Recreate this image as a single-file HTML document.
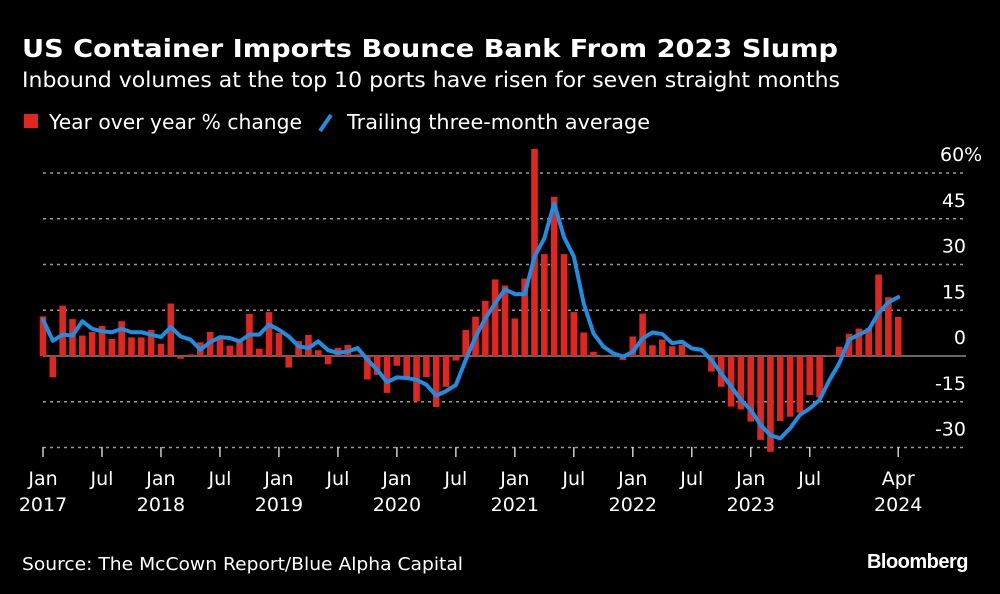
<!DOCTYPE html>
<html><head><meta charset="utf-8"><style>
body{margin:0;background:#000;width:1000px;height:594px;overflow:hidden;font-family:"DejaVu Sans","Liberation Sans",sans-serif;color:#fff}
svg{position:absolute;left:0;top:0}
</style></head><body>
<svg width="1000" height="594" font-family="DejaVu Sans, Liberation Sans, sans-serif">
<text x="22" y="57" font-size="25" font-weight="bold" fill="#fff" textLength="816" lengthAdjust="spacingAndGlyphs">US Container Imports Bounce Bank From 2023 Slump</text>
<text x="22" y="87" font-size="21" fill="#fff" textLength="818" lengthAdjust="spacingAndGlyphs">Inbound volumes at the top 10 ports have risen for seven straight months</text>
<rect x="24" y="114" width="14" height="14" fill="#e0261f"/>
<text x="49" y="129" font-size="20" fill="#fff" textLength="253" lengthAdjust="spacingAndGlyphs">Year over year % change</text>
<line x1="320" y1="131" x2="331" y2="115" stroke="#1a8fe3" stroke-width="4"/>
<text x="347" y="129" font-size="20" fill="#fff" textLength="303" lengthAdjust="spacingAndGlyphs">Trailing three-month average</text>
<g id="grid"></g><g id="bars"></g><g id="line"></g><g id="xaxis"></g>
<text x="22" y="570" font-size="18" fill="#fff" textLength="441" lengthAdjust="spacingAndGlyphs">Source: The McCown Report/Blue Alpha Capital</text>
<text x="968" y="568" font-size="20" font-weight="bold" fill="#fff" text-anchor="end" font-family="Liberation Sans, sans-serif" letter-spacing="-0.5">Bloomberg</text>
</svg>
<script>
const yoy=[13.0,-7.0,16.5,12.1,6.7,7.9,9.9,5.6,11.4,6.1,6.1,8.6,4.0,17.2,-0.9,0.5,4.5,7.9,5.9,3.4,4.5,13.8,2.4,14.4,7.5,-3.8,4.9,6.9,1.9,-2.7,2.7,3.6,0.5,-7.7,-6.2,-12.1,-3.2,-6.9,-14.9,-6.9,-16.7,-10.1,-1.5,8.5,12.9,18.1,25.1,23.1,12.3,25.4,67.9,33.4,52.2,33.4,14.4,7.7,1.4,0.2,0.1,-1.3,6.4,13.9,3.5,5.4,3.2,3.7,0.2,0.1,-5.1,-10.1,-16.6,-17.5,-21.5,-27.5,-31.4,-21.3,-19.9,-18.6,-12.8,-13.6,0.2,3.0,7.3,9.0,9.2,26.7,19.3,12.8];
const avg=[11.9,5.0,7.0,6.7,11.4,8.9,8.1,7.8,8.9,7.8,7.8,7.0,6.2,9.5,6.4,5.4,2.1,4.5,6.2,5.9,4.8,7.0,7.0,10.3,8.6,6.4,3.2,2.6,4.8,1.9,1.0,1.5,2.6,-1.2,-4.5,-8.6,-7.0,-7.2,-7.8,-9.4,-13.0,-11.5,-9.5,-1.3,6.3,12.3,17.3,21.9,20.3,20.3,32.6,38.6,50.0,39.0,32.6,17.3,7.4,3.1,0.9,-0.2,1.4,5.8,7.7,7.2,4.2,4.7,2.5,2.0,-1.3,-5.7,-10.0,-14.4,-17.7,-22.6,-26.0,-27.0,-23.7,-19.3,-17.2,-14.4,-7.9,-2.4,5.4,7.0,8.6,14.1,17.6,19.3];
const yTicks=[60,45,30,15,0,-15,-30];
const yTickLabels=["60%","45","30","15","0","-15","-30"];
const xTickIdx=[0,6,12,18,24,30,36,42,48,54,60,66,72,78,87];
const xTickTop=["Jan","Jul","Jan","Jul","Jan","Jul","Jan","Jul","Jan","Jul","Jan","Jul","Jan","Jul","Apr"];
const xTickBottom=["2017","","2018","","2019","","2020","","2021","","2022","","2023","","2024"];
const NS="http://www.w3.org/2000/svg";
const X=i=>43+i*9.83, Y=v=>356-v*3.05;
function mk(t,a,p){const e=document.createElementNS(NS,t);for(const k in a)e.setAttribute(k,a[k]);p.appendChild(e);return e;}
const g=document.getElementById('grid');
yTicks.forEach((v,k)=>{
 const l=mk('line',{x1:43,x2:966,y1:Y(v),y2:Y(v),stroke:v===0?'#888':'#999','stroke-width':1.5,'stroke-dasharray':v===0?'none':'3 4'},g);
 
 
 const t=mk('text',{x:966,y:Y(v)-12,'font-size':19,fill:'#fff','text-anchor':'end'},g);
 t.textContent=yTickLabels[k];
 if(k===0){t.setAttribute('text-anchor','start');t.setAttribute('x',940);}
 
 
});
const b=document.getElementById('bars');
yoy.forEach((v,i)=>{
 const r=mk('rect',{x:X(i)-3.3,width:6.6,y:Math.min(Y(v),Y(0)),height:Math.abs(Y(v)-Y(0)),fill:'#e0261f'},b);
 
 
});
const p=mk('polyline',{points:avg.map((v,i)=>X(i)+','+Y(v)).join(' '),fill:'none',stroke:'#1a8fe3','stroke-width':4,'stroke-linejoin':'round','stroke-linecap':'round'},document.getElementById('line'));


const xa=document.getElementById('xaxis');
xTickIdx.forEach((m,k)=>{
 const l=mk('line',{x1:X(m),x2:X(m),y1:447,y2:457,stroke:'#ccc','stroke-width':1.5},xa);
 
 
 const t=mk('text',{x:X(m),y:485,'font-size':19,fill:'#fff','text-anchor':'middle'},xa);
 t.textContent=xTickTop[k];
 
 
 if(xTickBottom[k]){const t2=mk('text',{x:X(m),y:511,'font-size':19,fill:'#fff','text-anchor':'middle'},xa);
 t2.textContent=xTickBottom[k];
 
 }
});
</script>
</body></html>
